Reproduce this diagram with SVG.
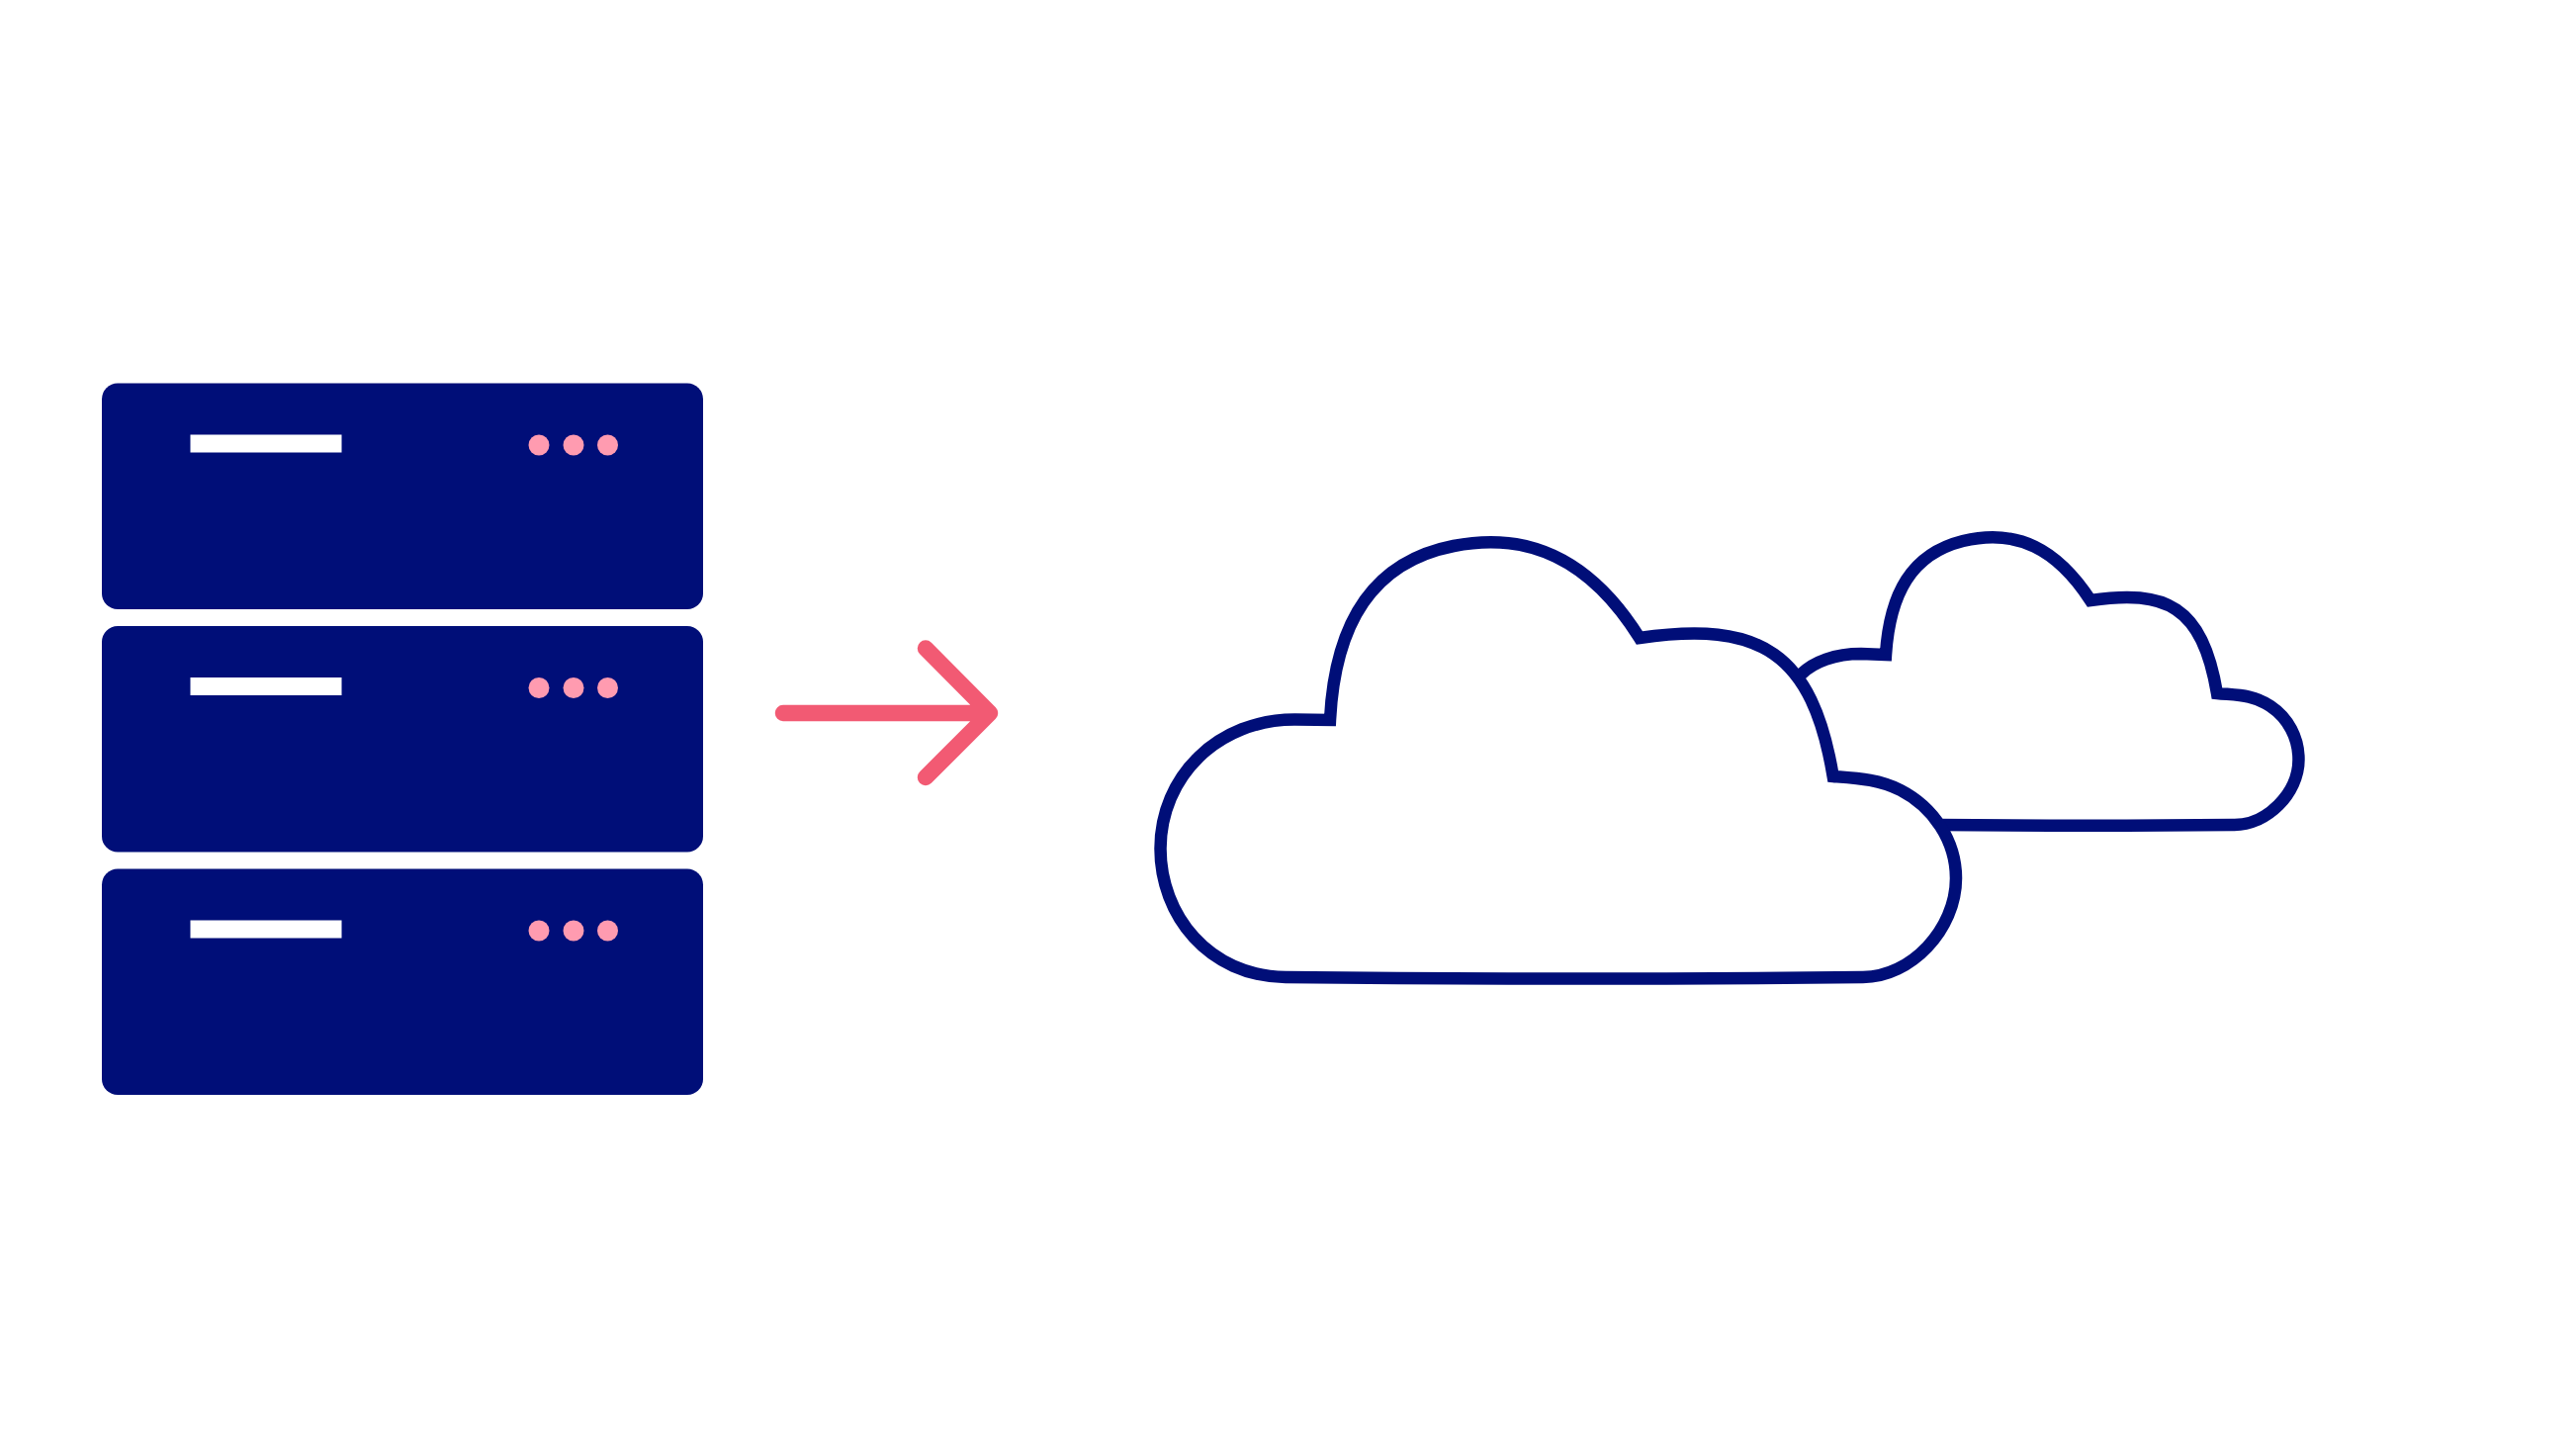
<svg xmlns="http://www.w3.org/2000/svg" width="2605" height="1459" viewBox="0 0 2605 1459">
<style>
.case{fill:#000e78}.bar{fill:#fff}.dot{fill:#ff9bb0}
.cloud{fill:#fff;stroke:#000e78;stroke-width:12.5;stroke-linejoin:miter}
.arrow{fill:none;stroke:#f25a73;stroke-width:16.5;stroke-linecap:round;stroke-linejoin:round}
</style>
<defs>
<g id="server">
<rect class="case" x="103" y="387.5" width="608" height="228.5" rx="16"/>
<rect class="bar" x="192.5" y="439.5" width="153" height="18"/>
<circle class="dot" cx="545" cy="450" r="10.5"/>
<circle class="dot" cx="580" cy="450" r="10.5"/>
<circle class="dot" cx="614.5" cy="450" r="10.5"/>
</g>
</defs>
<rect width="2605" height="1459" fill="#fff"/>
<g id="server-1"><use href="#server"/></g>
<g id="server-2"><use href="#server" y="245.5"/></g>
<g id="server-3"><use href="#server" y="491"/></g>
<g id="connectors"><path id="arrow" class="arrow" d="M792 721H1001M936 655.5L1001 721L936 786"/></g>
<g id="cloud-back">
<path class="cloud" d="M1821 682C1834 669 1856 661 1882 661L1907 662C1911 600 1933 560 1985 547C2040 534 2080 555 2114 607C2190 596 2227 612 2242 701C2262 703 2278 702 2296 714C2314 726 2324.5 746 2324.5 768C2324.5 802 2292 835 2258 834C2170 835 2060 835 1960 834"/>
</g>
<g id="cloud-front">
<path class="cloud" d="M1345 728C1350 630 1388 568 1470 552C1545 537 1608 565 1658 645C1780 627 1833 660 1853.7 785C1880 787 1900 788 1922 799C1955 816 1978 850 1978 888C1978 940 1932 988 1884 988C1700 990 1480 990 1300 988C1222 987 1173.5 925 1173.5 858C1173.5 785 1232 727 1310 727.5Z"/>
</g>
</svg>
